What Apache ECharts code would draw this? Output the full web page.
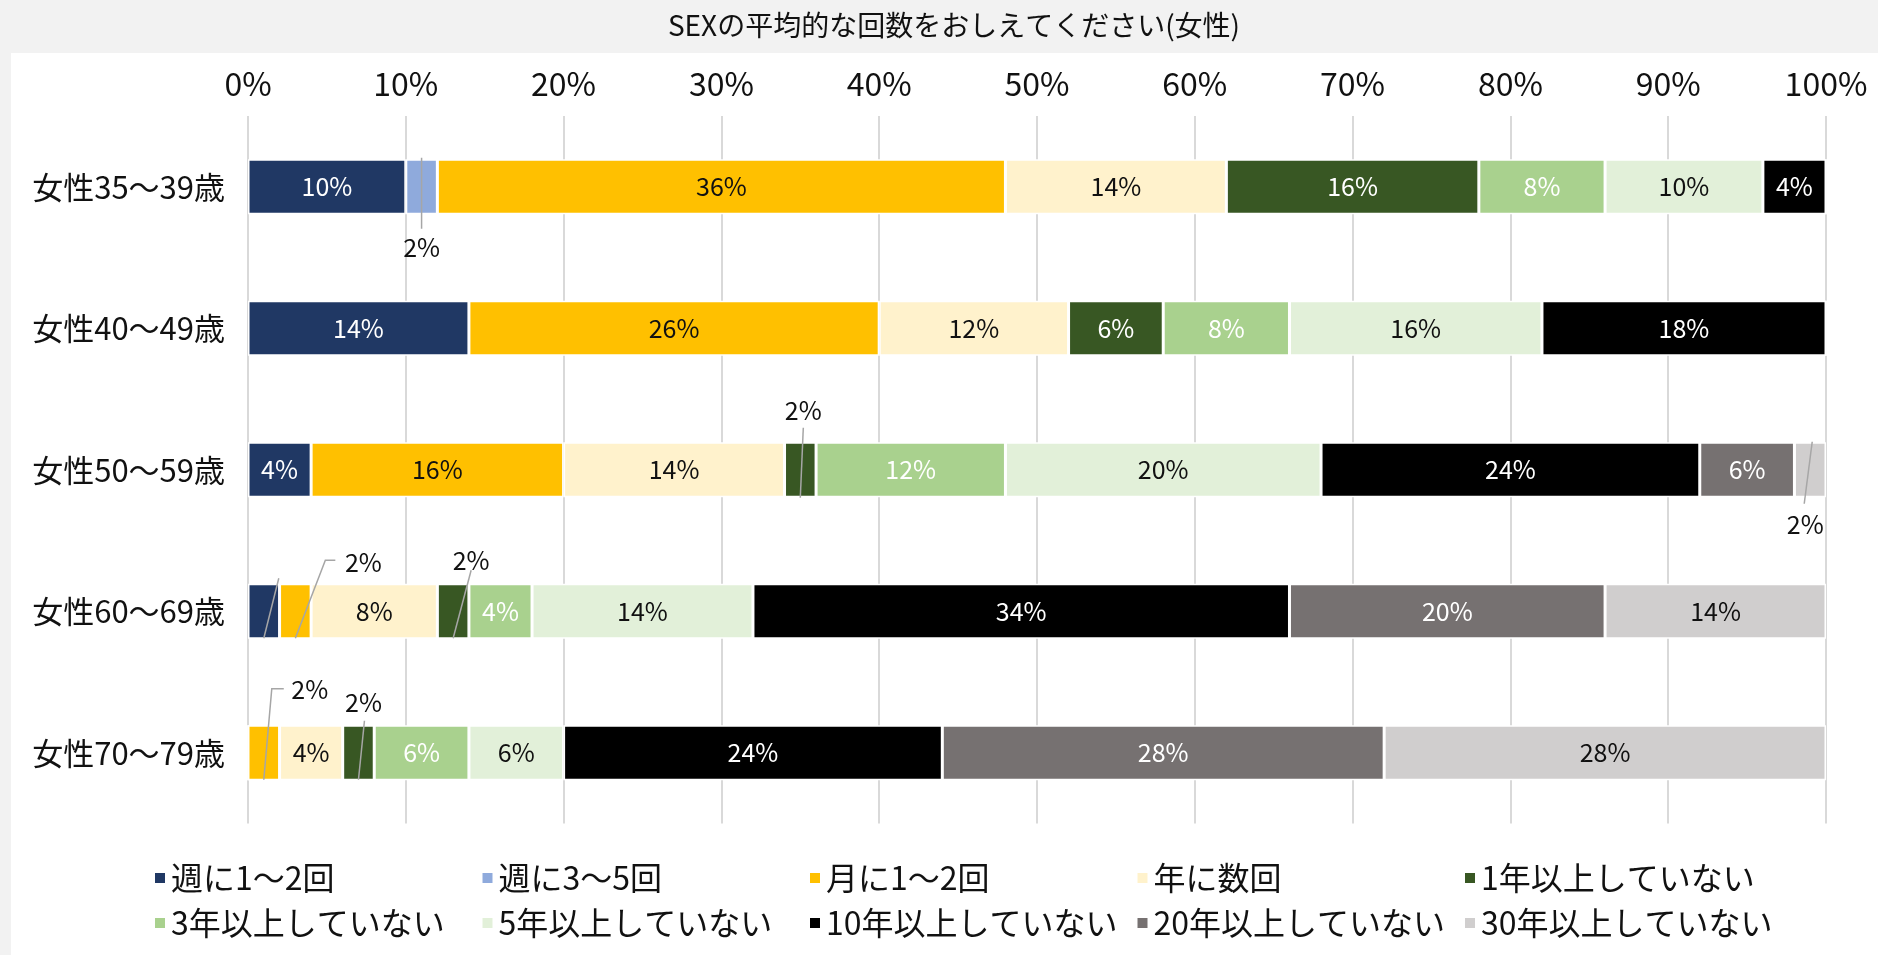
<!DOCTYPE html>
<html>
<head>
<meta charset="utf-8">
<script src="https://cdn.jsdelivr.net/npm/echarts@6/dist/echarts.min.js"></script>
<style>
  html, body { margin: 0; padding: 0; background: #f2f2f2; }
  #chart { width: 1878px; height: 955px; }
</style>
</head>
<body>
<div id="chart"></div>
<script>
const title = 'SEXの平均的な回数をおしえてください(女性)';
const categories = ['女性35〜39歳', '女性40〜49歳', '女性50〜59歳', '女性60〜69歳', '女性70〜79歳'];
const xTicks = [0, 10, 20, 30, 40, 50, 60, 70, 80, 90, 100];

const answers = [
  '週に1〜2回', '週に3〜5回', '月に1〜2回', '年に数回', '1年以上していない',
  '3年以上していない', '5年以上していない', '10年以上していない', '20年以上していない', '30年以上していない'
];

// % per age group, top to bottom
const weekly12  = [10, 14, 4, 2, 0];
const weekly35  = [2, 0, 0, 0, 0];
const monthly12 = [36, 26, 16, 2, 2];
const fewYear   = [14, 12, 14, 8, 4];
const none1y    = [16, 6, 2, 2, 2];
const none3y    = [8, 8, 12, 4, 6];
const none5y    = [10, 16, 20, 14, 6];
const none10y   = [4, 18, 24, 34, 24];
const none20y   = [0, 0, 6, 20, 28];
const none30y   = [0, 0, 2, 14, 28];

const values = [weekly12, weekly35, monthly12, fewYear, none1y, none3y, none5y, none10y, none20y, none30y];

const colors = ['#203864', '#8faadc', '#ffc000', '#fff2cc', '#385723', '#a9d18e', '#e2f0d9', '#000000', '#767171', '#d0cece'];
const labelColors = ['#fff', '#111', '#111', '#111', '#fff', '#fff', '#111', '#fff', '#fff', '#111'];

// small segments labelled outside with a leader line (offsets in px from segment centre)
const callouts = [
  { s: 1, c: 0, label: [0, 61], line: [[0, -29], [0, 42]] },
  { s: 4, c: 2, label: [3, -59], line: [[3, -42], [0, 28]] },
  { s: 9, c: 2, label: [-5, 55], line: [[2, -28], [-6, 34]] },
  { s: 0, c: 3, label: null, line: [[15, -33], [0, 27]] },
  { s: 2, c: 3, label: [68, -49], line: [[0, 27], [30, -51], [40, -51]] },
  { s: 4, c: 3, label: [18, -51], line: [[0, 27], [18, -41]] },
  { s: 2, c: 4, label: [46, -63], line: [[0, 27], [8, -64], [20, -64]] },
  { s: 4, c: 4, label: [5, -50], line: [[0, 27], [6, -32]] }
];

const FONT = '"Noto Sans CJK JP", "Noto Sans", sans-serif';

const mids = callouts.map((co) => {
  let start = 0;
  for (let i = 0; i < co.s; i++) start += values[i][co.c];
  return [start + values[co.s][co.c] / 2, co.c, values[co.s][co.c]];
});

const chart = echarts.init(document.getElementById('chart'));

const barSeries = answers.map((name, i) => ({
  name,
  type: 'bar',
  stack: 'total',
  barWidth: 55,
  data: values[i],
  itemStyle: { color: colors[i], borderColor: '#fff', borderWidth: 1.5 },
  label: {
    show: true,
    position: 'inside',
    color: labelColors[i],
    fontSize: 25,
    fontFamily: FONT,
    formatter: (p) => (p.value >= 4 ? p.value + '%' : '')
  },
  emphasis: { disabled: true }
}));

const calloutSeries = {
  type: 'custom',
  coordinateSystem: 'cartesian2d',
  encode: { x: 0, y: 1 },
  data: mids,
  clip: false,
  z: 10,
  silent: true,
  renderItem: (params, api) => {
    const co = callouts[params.dataIndex];
    const p = api.coord([api.value(0), api.value(1)]);
    const children = [{
      type: 'polyline',
      shape: { points: co.line.map((d) => [p[0] + d[0], p[1] + d[1]]) },
      style: { stroke: '#a6a6a6', lineWidth: 1.5, fill: null }
    }];
    if (co.label) {
      children.push({
        type: 'text',
        style: {
          text: api.value(2) + '%',
          x: p[0] + co.label[0],
          y: p[1] + co.label[1],
          align: 'center',
          verticalAlign: 'middle',
          fontSize: 25,
          fontFamily: FONT,
          fill: '#111'
        }
      });
    }
    return { type: 'group', children };
  }
};

const legends = answers.map((name, i) => ({
  data: [name],
  left: 148 + (i % 5) * 327.5,
  top: 857 + Math.floor(i / 5) * 45,
  itemWidth: 12,
  itemHeight: 12,
  icon: 'rect',
  textStyle: { fontSize: 32, fontFamily: FONT, color: '#111' }
}));

chart.setOption({
  backgroundColor: '#f2f2f2',
  animation: false,
  graphic: [
    {
      type: 'rect',
      z: -10,
      silent: true,
      shape: { x: 11, y: 53, width: 1867, height: 902 },
      style: { fill: '#fff' }
    },
    {
      type: 'text',
      silent: true,
      x: 954,
      y: 25,
      style: {
        text: title,
        align: 'center',
        verticalAlign: 'middle',
        fontSize: 28,
        fontFamily: FONT,
        fill: '#111'
      }
    }
  ],
  legend: legends,
  grid: { left: 248, right: 52, top: 116, bottom: 131.5 },
  xAxis: {
    type: 'value',
    position: 'top',
    min: xTicks[0],
    max: xTicks[xTicks.length - 1],
    interval: 10,
    axisLine: { show: false },
    axisTick: { show: false },
    splitLine: { lineStyle: { color: '#d9d9d9', width: 2 } },
    axisLabel: {
      formatter: '{value}%',
      fontSize: 32,
      fontFamily: FONT,
      color: '#111',
      margin: 16
    }
  },
  yAxis: {
    type: 'category',
    inverse: true,
    data: categories,
    axisLine: { show: false },
    axisTick: { show: false },
    axisLabel: { fontSize: 31, fontFamily: FONT, color: '#111', margin: 23 }
  },
  series: [...barSeries, calloutSeries]
});
</script>
</body>
</html>
